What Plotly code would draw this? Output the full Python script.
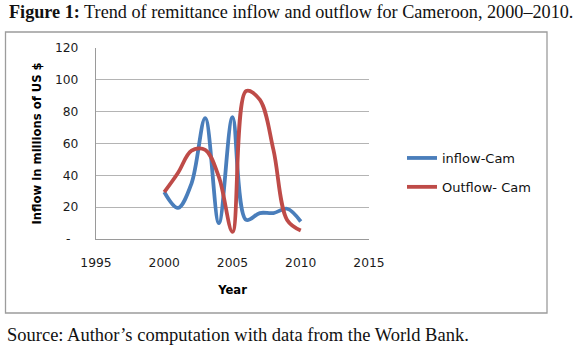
import plotly.graph_objects as go

years = [2000, 2001, 2002, 2003, 2004, 2005, 2006, 2007, 2008, 2009, 2010]
inflow = [29.5, 19.5, 35, 76, 10, 76.5, 12, 16.3, 16.3, 19, 11]
outflow = [29.5, 41.5, 55.5, 56, 39, 4.5, 93, 87.5, 56, 12, 5.4]

x_ticks = [1995, 2000, 2005, 2010, 2015]
y_ticks = [0, 20, 40, 60, 80, 100, 120]
y_ticktext = ["-\u00a0\u00a0", "20", "40", "60", "80", "100", "120"]

W, H = 580, 353
L, R, T, B = 96, 369, 48, 239  # plot area pixel edges


def px(xp):
    return (xp - L) / (R - L)


def py(yp):
    return (B - yp) / (B - T)


fig = go.Figure()
fig.add_trace(go.Scatter(x=years, y=inflow, name="inflow-Cam", mode="lines",
                         line=dict(color="#4A7EBB", width=3.8, shape="spline", smoothing=1),
                         legendgroup="a"))
fig.add_trace(go.Scatter(x=years, y=outflow, name="Outflow- Cam", mode="lines",
                         line=dict(color="#BE4B48", width=3.8, shape="spline", smoothing=1),
                         legendgroup="b"))

tick_font = dict(family="DejaVu Sans", size=12.3, color="#1a1a1a")
title_font = dict(family="DejaVu Sans", size=11.6, color="#000000", weight="bold")

fig.update_layout(
    width=W, height=H,
    margin=dict(l=L, r=W - R, t=T, b=H - B, pad=0),
    paper_bgcolor="white", plot_bgcolor="white",
    showlegend=True,
    legend=dict(x=px(402), y=py(143), xanchor="left", yanchor="top",
                font=dict(family="DejaVu Sans", size=13, color="#111111"),
                tracegroupgap=9, bgcolor="rgba(0,0,0,0)"),
    xaxis=dict(range=[1995, 2015], tickvals=x_ticks, showgrid=False, zeroline=False,
               showline=True, linecolor="#9a9a9a", linewidth=1.3, ticks="",
               tickfont=tick_font, ticklabelstandoff=12,
               title=dict(text="Year", font=title_font, standoff=16)),
    yaxis=dict(range=[0, 120], tickvals=y_ticks, ticktext=y_ticktext, showgrid=True,
               gridcolor="#b4b4b4", gridwidth=1.3, zeroline=False,
               showline=True, linecolor="#9a9a9a", linewidth=1.3, ticks="",
               tickfont=tick_font, ticklabelstandoff=14,
               title=dict(text="Inflow in millions of US $", font=title_font, standoff=10)),
    shapes=[dict(type="rect", xref="paper", yref="paper",
                 x0=px(5.5), x1=px(547), y0=py(313), y1=py(32),
                 line=dict(color="#9c9c9c", width=1.3), layer="below")],
    annotations=[
        dict(text="<b>Figure 1:</b> Trend of remittance inflow and outflow for Cameroon, 2000\u20132010.",
             xref="paper", yref="paper", x=px(7), y=py(12), xanchor="left", yanchor="middle",
             showarrow=False, font=dict(family="Liberation Serif", size=18.2, color="#111111")),
        dict(text="Source: Author\u2019s computation with data from the World Bank.",
             xref="paper", yref="paper", x=px(5), y=py(335), xanchor="left", yanchor="middle",
             showarrow=False, font=dict(family="Liberation Serif", size=18.5, color="#111111")),
    ],
)

fig.write_html("out.html", config={"displayModeBar": False},
               post_script="document.body.style.margin='0';")
